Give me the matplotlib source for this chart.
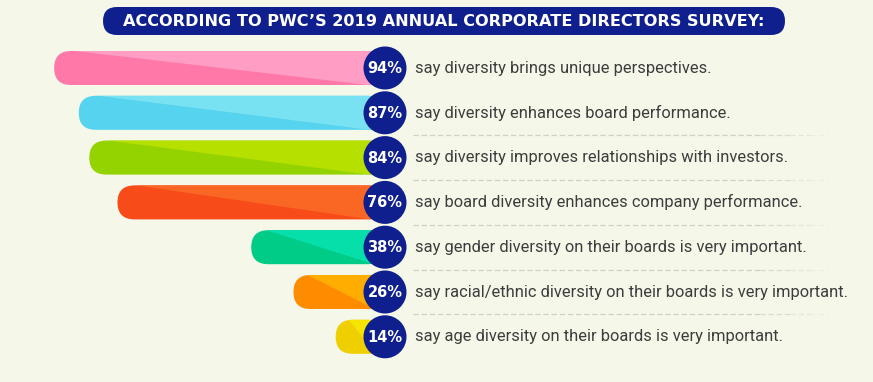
import matplotlib.pyplot as plt
from matplotlib.patches import FancyBboxPatch, Circle, Polygon

# data
title = "ACCORDING TO PWC\u2019S 2019 ANNUAL CORPORATE DIRECTORS SURVEY:"
values = [94, 87, 84, 76, 38, 26, 14]
labels = [
    "say diversity brings unique perspectives.",
    "say diversity enhances board performance.",
    "say diversity improves relationships with investors.",
    "say board diversity enhances company performance.",
    "say gender diversity on their boards is very important.",
    "say racial/ethnic diversity on their boards is very important.",
    "say age diversity on their boards is very important.",
]
dark_colors = ["#ff78a8", "#56d3ee", "#94d300", "#f74c19", "#00cc88", "#ff8c00", "#efcf00"]
light_colors = ["#ff9dc5", "#78e2f3", "#b5e000", "#fa6623", "#07dfab", "#ffad00", "#f5e300"]

bg = "#f5f7e9"
navy = "#0f1f8e"
text_col = "#3d3d3d"

fig = plt.figure(figsize=(8.73, 3.82), dpi=100)
fig.patch.set_facecolor(bg)
ax = fig.add_axes([0, 0, 1, 1])
ax.set_xlim(0, 873)
ax.set_ylim(382, 0)
ax.axis("off")

# title banner
banner = FancyBboxPatch((103, 7), 682, 28, boxstyle="round,pad=0,rounding_size=14",
                        facecolor=navy, edgecolor="none")
ax.add_patch(banner)
ax.text(444, 21.5, title, color="white", fontsize=11.6, fontweight="bold",
        family="DejaVu Sans", ha="center", va="center")

x_end = 385
px_per_pct = 3.52
row0 = 68
row_gap = 44.8
bar_h = 34

for i, (v, lab) in enumerate(zip(values, labels)):
    yc = row0 + i * row_gap
    left = x_end - v * px_per_pct
    top = yc - bar_h / 2
    bar = FancyBboxPatch((left, top), x_end - left, bar_h,
                         boxstyle="round,pad=0,rounding_size=%f" % (bar_h / 2),
                         facecolor=dark_colors[i], edgecolor="none")
    ax.add_patch(bar)
    tri = Polygon([(left + 12, top - 1), (x_end + 2, top - 1), (x_end - 8, top + bar_h + 1)],
                  closed=True, facecolor=light_colors[i], edgecolor="none")
    ax.add_patch(tri)
    tri.set_clip_path(bar)

    ax.add_patch(Circle((x_end, yc), 21.5, facecolor=navy, edgecolor="none", zorder=3))
    ax.text(x_end, yc + 0.5, "%d%%" % v, color="white", fontsize=10.5, fontweight="bold",
            family="DejaVu Sans", ha="center", va="center", zorder=4)
    ax.text(415, yc, lab, color=text_col, fontsize=11.9, family="Roboto",
            ha="left", va="center")

    # dashed separators below rows 2..6
    if 1 <= i < len(values) - 1:
        ys = yc + row_gap / 2
        xs = [413, 760, 790, 810, 828]
        alphas = [1.0, 0.7, 0.4, 0.2]
        for k in range(len(alphas)):
            ax.plot([xs[k], xs[k + 1]], [ys, ys], color="#cfd2bd", lw=0.9,
                    dashes=(4.3, 2.2), alpha=alphas[k])

fig.savefig("out.png", dpi=100, facecolor=bg)
